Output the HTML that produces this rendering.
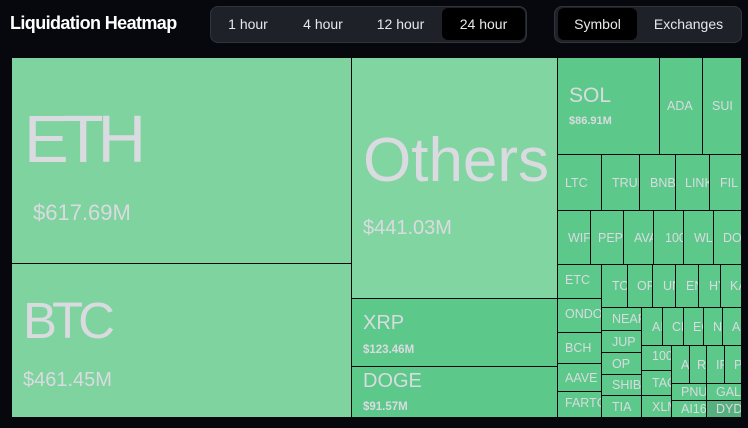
<!DOCTYPE html>
<html><head><meta charset="utf-8"><style>
body{margin:0;width:748px;height:428px;background:#06080d;font-family:"Liberation Sans",sans-serif;overflow:hidden;position:relative}
.t{position:absolute;left:10px;top:13px;color:#fff;font-weight:bold;font-size:18px;letter-spacing:-0.6px}
.seg{position:absolute;background:#1e2228;border:1px solid #30353c;border-radius:8px}
.b{position:absolute;color:#e6e8ea;font-size:14px;text-align:center;line-height:32px;border-radius:6px}
.b.a{background:#000}
.c{position:absolute;background:#5cc98a;color:#d9dbe0;overflow:hidden;white-space:nowrap;font-size:12.5px;display:flex;align-items:center;padding-left:7px;box-sizing:border-box}
.x{position:absolute;color:#d9dbe0;white-space:nowrap;line-height:1}
</style></head><body>
<div class="t">Liquidation Heatmap</div>
<div class="seg" style="left:210px;top:6px;width:315px;height:35px"></div>
<div class="b" style="left:214px;top:8px;width:68px">1 hour</div>
<div class="b" style="left:288px;top:8px;width:70px">4 hour</div>
<div class="b" style="left:363px;top:8px;width:75px">12 hour</div>
<div class="b a" style="left:442px;top:8px;width:83px">24 hour</div>
<div class="seg" style="left:554px;top:6px;width:186px;height:35px"></div>
<div class="b a" style="left:558px;top:8px;width:79px">Symbol</div>
<div class="b" style="left:640px;top:8px;width:97px">Exchanges</div>

<div class="c" style="left:12px;top:58px;width:339px;height:205px;background:#7fd39f"></div>
<div class="c" style="left:12px;top:264px;width:339px;height:153px;background:#7fd39f"></div>
<div class="c" style="left:352px;top:58px;width:205px;height:240px;background:#81d5a1"></div>
<div class="c" style="left:352px;top:299px;width:205px;height:67px"></div>
<div class="c" style="left:352px;top:367px;width:205px;height:50px"></div>
<div class="x" style="left:24px;top:106px;font-size:67px;letter-spacing:-6px">ETH</div>
<div class="x" style="left:33px;top:202px;font-size:22px">$617.69M</div>
<div class="x" style="left:363px;top:130px;font-size:62px">Others</div>
<div class="x" style="left:363px;top:218px;font-size:20px">$441.03M</div>
<div class="x" style="left:23px;top:295px;font-size:51px;letter-spacing:-5px">BTC</div>
<div class="x" style="left:23px;top:370px;font-size:20px">$461.45M</div>
<div class="x" style="left:363px;top:313px;font-size:20px">XRP</div>
<div class="x" style="left:363px;top:345px;font-size:11.5px;font-weight:bold">$123.46M</div>
<div class="x" style="left:363px;top:371px;font-size:20px">DOGE</div>
<div class="x" style="left:363px;top:402px;font-size:11.5px;font-weight:bold">$91.57M</div>

<div class="c" style="left:558px;top:58px;width:101px;height:96px"></div>
<div class="x" style="left:569px;top:85px;font-size:21px">SOL</div>
<div class="x" style="left:569px;top:116px;font-size:11px;font-weight:bold">$86.91M</div>
<div class="c" style="left:660px;top:58px;width:42px;height:96px">ADA</div>
<div class="c" style="left:703px;top:58px;width:38px;height:96px;padding-left:9px">SUI</div>

<div class="c" style="left:558px;top:155px;width:43px;height:55px">LTC</div>
<div class="c" style="left:602px;top:155px;width:37px;height:55px;padding-left:10px">TRUMP</div>
<div class="c" style="left:640px;top:155px;width:35px;height:55px;padding-left:10px">BNB</div>
<div class="c" style="left:676px;top:155px;width:33px;height:55px;padding-left:9px">LINK</div>
<div class="c" style="left:710px;top:155px;width:31px;height:55px;padding-left:10px">FIL</div>

<div class="c" style="left:558px;top:211px;width:32px;height:53px;padding-left:10px">WIF</div>
<div class="c" style="left:591px;top:211px;width:32px;height:53px">PEPE</div>
<div class="c" style="left:624px;top:211px;width:29px;height:53px;padding-left:10px">AVAX</div>
<div class="c" style="left:654px;top:211px;width:29px;height:53px;padding-left:11px">1000</div>
<div class="c" style="left:684px;top:211px;width:29px;height:53px;padding-left:10px">WLD</div>
<div class="c" style="left:714px;top:211px;width:27px;height:53px;padding-left:9px">DOT</div>

<div class="c" style="left:558px;top:265px;width:43px;height:33px;padding-bottom:4px">ETC</div>
<div class="c" style="left:558px;top:299px;width:43px;height:33px;padding-bottom:4px">ONDO</div>
<div class="c" style="left:558px;top:333px;width:43px;height:30px">BCH</div>
<div class="c" style="left:558px;top:364px;width:43px;height:27px">AAVE</div>
<div class="c" style="left:558px;top:392px;width:43px;height:25px;padding-bottom:4px">FARTCOIN</div>

<div class="c" style="left:602px;top:265px;width:25px;height:42px;padding-left:10px">TON</div>
<div class="c" style="left:628px;top:265px;width:24px;height:42px;padding-left:9px">ORDI</div>
<div class="c" style="left:653px;top:265px;width:22px;height:42px;padding-left:10px">UNI</div>
<div class="c" style="left:676px;top:265px;width:22px;height:42px;padding-left:10px">ENA</div>
<div class="c" style="left:699px;top:265px;width:21px;height:42px;padding-left:10px">HYPE</div>
<div class="c" style="left:721px;top:265px;width:20px;height:42px;padding-left:9px">KAS</div>

<div class="c" style="left:602px;top:308px;width:39px;height:22px;padding-left:10px">NEAR</div>
<div class="c" style="left:602px;top:331px;width:39px;height:21px;padding-left:10px">JUP</div>
<div class="c" style="left:602px;top:353px;width:39px;height:21px;padding-left:10px">OP</div>
<div class="c" style="left:602px;top:375px;width:39px;height:20px;padding-left:10px">SHIB</div>
<div class="c" style="left:602px;top:396px;width:39px;height:21px;padding-left:10px">TIA</div>

<div class="c" style="left:642px;top:308px;width:20px;height:37px;padding-left:10px">AI</div>
<div class="c" style="left:663px;top:308px;width:20px;height:37px;padding-left:9px">CRV</div>
<div class="c" style="left:684px;top:308px;width:19px;height:37px;padding-left:9px">EOS</div>
<div class="c" style="left:704px;top:308px;width:18px;height:37px;padding-left:9px">NEO</div>
<div class="c" style="left:723px;top:308px;width:18px;height:37px;padding-left:9px">APT</div>

<div class="c" style="left:642px;top:346px;width:29px;height:24px;padding-left:10px;padding-bottom:4px">1000</div>
<div class="c" style="left:642px;top:371px;width:29px;height:24px;padding-left:10px">TAO</div>
<div class="c" style="left:642px;top:396px;width:29px;height:21px;padding-left:10px">XLM</div>

<div class="c" style="left:672px;top:346px;width:17px;height:37px;padding-left:9px">AR</div>
<div class="c" style="left:690px;top:346px;width:16px;height:37px;padding-left:7px">RUNE</div>
<div class="c" style="left:707px;top:346px;width:17px;height:37px;padding-left:9px">IP</div>
<div class="c" style="left:725px;top:346px;width:16px;height:37px;padding-left:9px">POL</div>
<div class="c" style="left:672px;top:384px;width:34px;height:16px;padding-left:9px">PNUT</div>
<div class="c" style="left:707px;top:384px;width:34px;height:16px;padding-left:9px">GALA</div>
<div class="c" style="left:672px;top:401px;width:34px;height:16px;padding-left:9px">AI16Z</div>
<div class="c" style="left:707px;top:401px;width:34px;height:16px;padding-left:9px;background:#55b07d">DYDX</div>
</body></html>
